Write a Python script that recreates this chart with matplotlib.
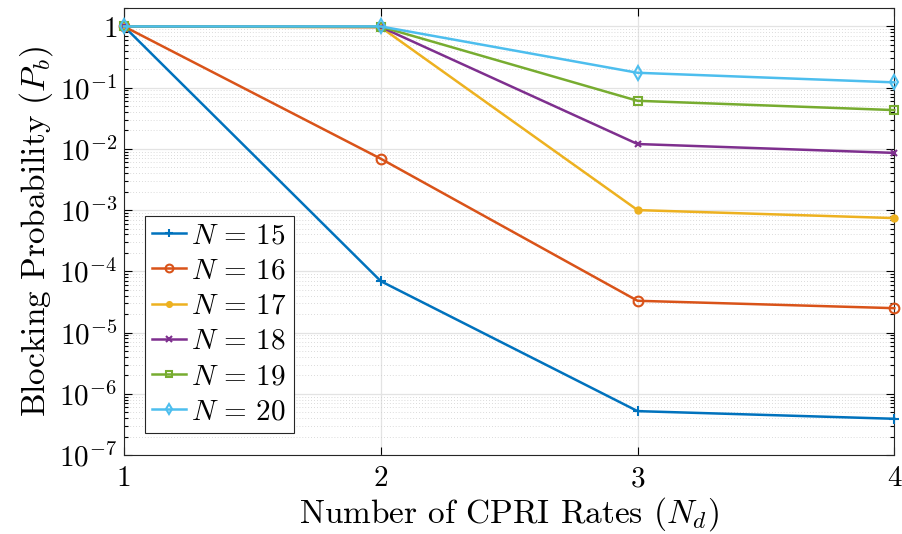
import matplotlib
matplotlib.use("Agg")
import matplotlib.pyplot as plt
from matplotlib.ticker import LogLocator, NullFormatter

plt.rcParams['font.family'] = 'serif'
plt.rcParams['font.serif'] = ['cmr10']
plt.rcParams['mathtext.fontset'] = 'cm'
plt.rcParams['axes.unicode_minus'] = False

# data
rates = [1, 2, 3, 4]
p_n15 = [1.0, 6.9e-5, 5.2e-7, 3.9e-7]
p_n16 = [1.0, 6.9e-3, 3.3e-5, 2.5e-5]
p_n17 = [1.0, 0.97, 1.0e-3, 7.4e-4]
p_n18 = [1.0, 0.98, 1.2e-2, 8.6e-3]
p_n19 = [1.0, 0.99, 6.1e-2, 4.3e-2]
p_n20 = [1.0, 1.0, 0.175, 0.122]
labels = [r'$N\,=\,15$', r'$N\,=\,16$', r'$N\,=\,17$', r'$N\,=\,18$', r'$N\,=\,19$', r'$N\,=\,20$']

colors = ['#0072BD', '#D95319', '#EDB120', '#7E2F8E', '#77AC30', '#4DBEEE']
markers = ['+', 'o', '.', 'x', 's', 'd']
series = [p_n15, p_n16, p_n17, p_n18, p_n19, p_n20]

fig = plt.figure(figsize=(9.02, 5.34), dpi=100)
ax = fig.add_axes([0.1375, 0.148, 0.854, 0.837])

for ys, c, m, lab in zip(series, colors, markers, labels):
    hollow = m in ('o', 's', 'd')
    ms = {'+': 7, 'o': 7, '.': 9, 'x': 5, 's': 6, 'd': 7}[m]
    ax.plot(rates, ys, color=c, marker=m, lw=1.8, ms=ms, mew=1.5,
            mfc='none' if hollow else c, label=lab, clip_on=False, zorder=3)

ax.set_yscale('log')
ax.set_xlim(1, 4)
ax.set_ylim(1e-7, 2)
ax.set_xticks(rates)
ax.set_xticklabels([str(r) for r in rates])
yt = [10.0 ** k for k in range(-7, 1)]
ax.set_yticks(yt)
ax.set_yticklabels([r'$10^{%d}$' % k for k in range(-7, 0)] + [r'$1$'])
ax.yaxis.set_minor_locator(LogLocator(base=10, subs=range(2, 10), numticks=20))
ax.yaxis.set_minor_formatter(NullFormatter())

ax.tick_params(which='both', direction='in', top=True, right=True, labelsize=21, width=0.8)
ax.tick_params(which='major', length=6)
ax.tick_params(which='minor', length=3)
ax.tick_params(axis='x', pad=8)
ax.tick_params(axis='y', pad=5)

ax.grid(True, which='major', color='#e3e3e3', lw=0.9)
ax.grid(True, which='minor', axis='y', color='#cfcfcf', lw=0.6, ls=(0, (1, 2.5)))
ax.set_axisbelow(True)
for s in ax.spines.values():
    s.set_color('#262626')
    s.set_linewidth(0.8)

ax.set_xlabel(r'Number of CPRI Rates ($N_d$)', fontsize=24, labelpad=2)
ax.set_ylabel(r'Blocking Probability ($P_b$)', fontsize=24, labelpad=3)

leg = ax.legend(loc='lower left', bbox_to_anchor=(0.027, 0.05), fontsize=21,
                fancybox=False, edgecolor='#262626', framealpha=1,
                handlelength=1.15, handletextpad=0.2, labelspacing=0.3,
                borderpad=0.25, borderaxespad=0, markerscale=0.8)
leg.get_frame().set_linewidth(0.8)

fig.savefig('out.png', dpi=100)
